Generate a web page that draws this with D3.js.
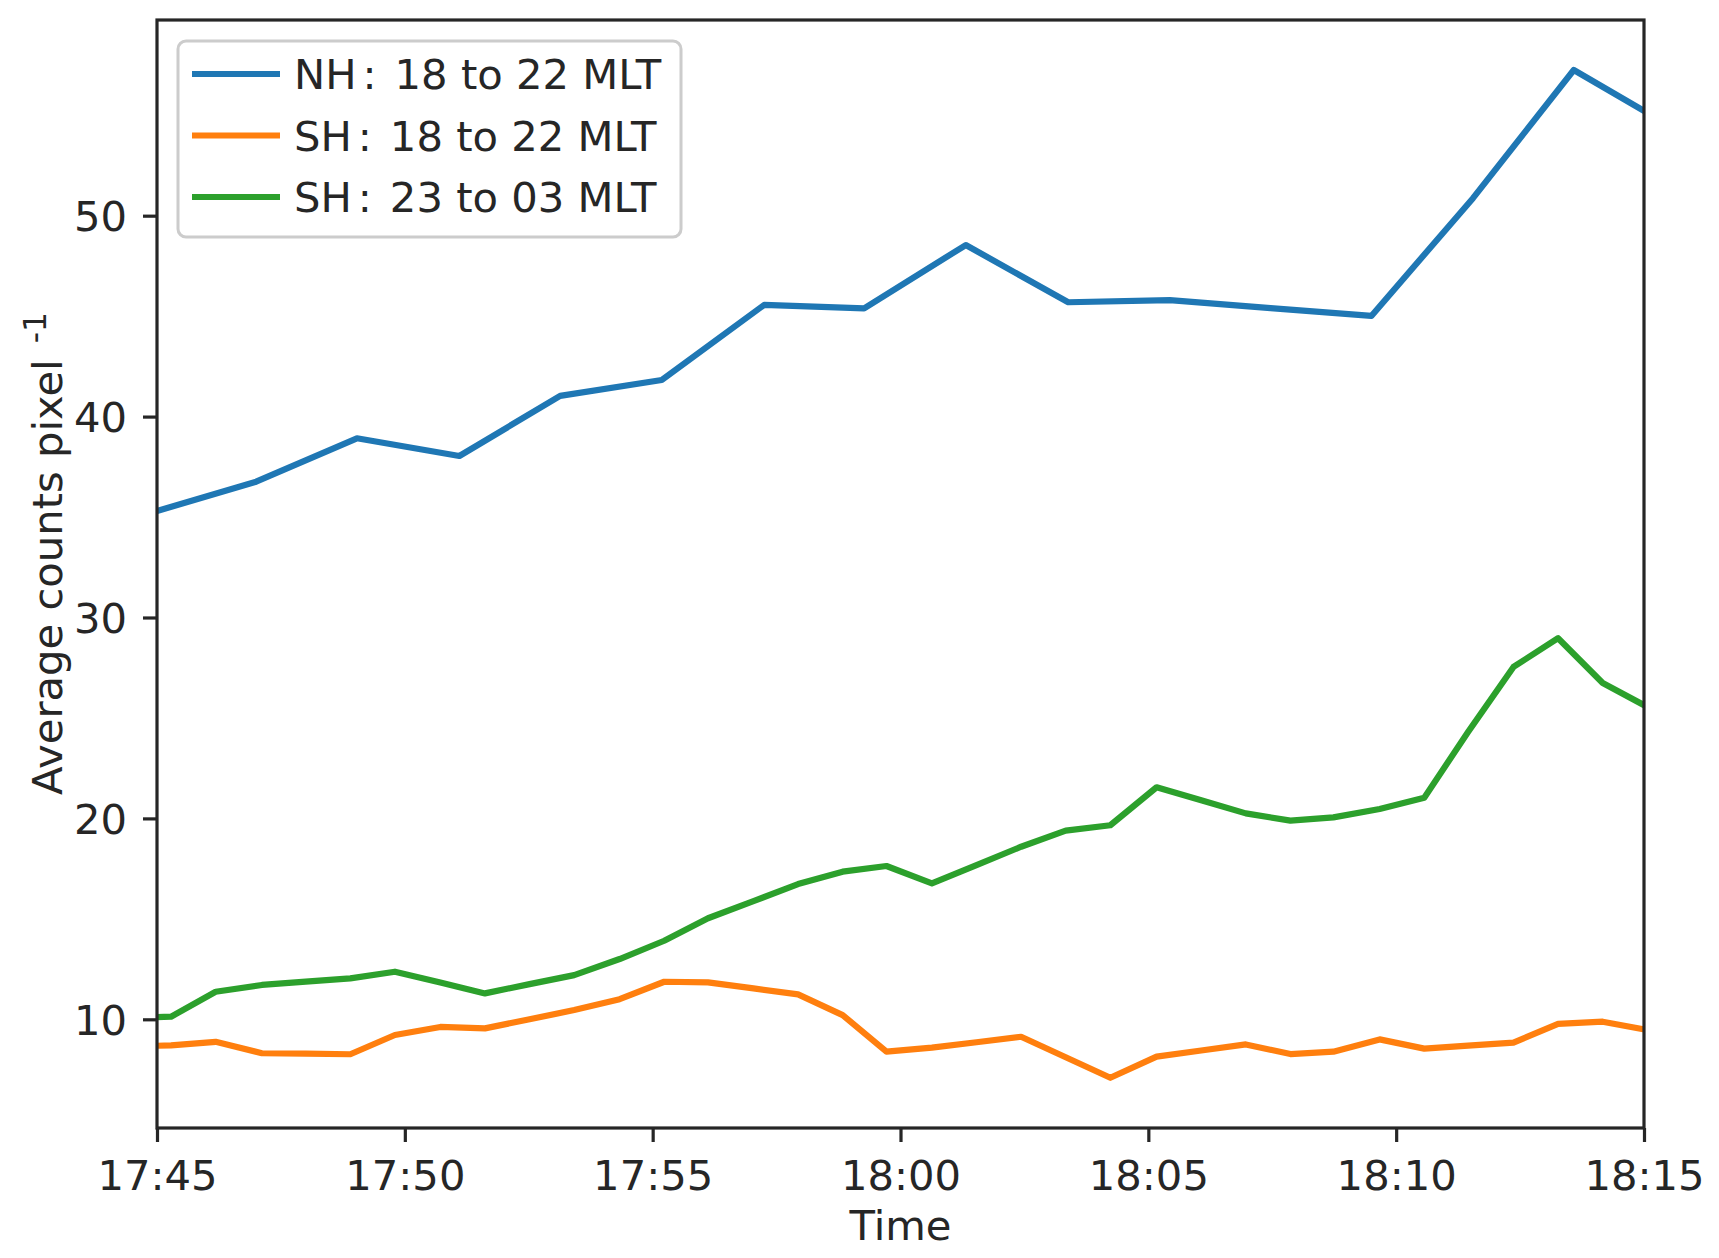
<!DOCTYPE html>
<html>
<head>
<meta charset="utf-8">
<script src="https://cdn.jsdelivr.net/npm/d3@7"></script>
<style>
  html, body { margin: 0; padding: 0; background: #ffffff; }
  svg { display: block; }
  text { font-family: "DejaVu Sans", sans-serif; fill: #262626; }
</style>
</head>
<body>
<script>
// ---------- data ----------
const nhTimes = ["17:45:00","17:47:00","17:49:02","17:51:06","17:53:08","17:55:11","17:57:15","17:59:16",
                 "18:01:19","18:03:23","18:05:26","18:07:28","18:09:30","18:11:33","18:13:35","18:15:38"];
const nh1822 = [35.3, 36.76, 38.92, 38.04, 41.03, 41.82, 45.56, 45.39,
                48.54, 45.69, 45.80, 45.4, 45.01, 50.87, 57.25, 54.31];

const shTimes = ["17:44:23","17:45:17","17:46:11","17:47:07","17:48:00","17:48:54","17:49:48","17:50:43",
                 "17:51:37","17:52:31","17:53:25","17:54:20","17:55:14","17:56:07","17:57:02","17:57:56",
                 "17:58:50","17:59:43","18:00:38","18:01:32","18:02:26","18:03:20","18:04:14","18:05:10",
                 "18:06:04","18:06:58","18:07:52","18:08:44","18:09:40","18:10:34","18:11:27","18:12:22",
                 "18:13:16","18:14:10","18:15:04"];
const sh1822 = [8.65, 8.70, 8.88, 8.31, 8.29, 8.26, 9.22, 9.62,
                9.55, 10.0, 10.46, 11.0, 11.87, 11.84, 11.54, 11.24,
                10.21, 8.39, 8.59, 8.86, 9.13, 8.11, 7.09, 8.14,
                8.45, 8.75, 8.27, 8.39, 9.0, 8.54, 8.69, 8.84,
                9.77, 9.88, 9.47];
const sh2303 = [10.05, 10.13, 11.37, 11.71, 11.88, 12.04, 12.37, 11.83,
                11.29, 11.75, 12.20, 13.0, 13.91, 15.03, 15.88, 16.73,
                17.35, 17.63, 16.77, 17.68, 18.59, 19.39, 19.66, 21.55,
                20.9, 20.25, 19.89, 20.05, 20.47, 21.03, 24.3, 27.54,
                28.97, 26.74, 25.55];

const seriesHemis = ["NH", "SH", "SH"];
const seriesRanges = ["18 to 22 MLT", "18 to 22 MLT", "23 to 03 MLT"];
const seriesColors = ["#1f77b4", "#ff7f0e", "#2ca02c"];
const xTickLabels = ["17:45","17:50","17:55","18:00","18:05","18:10","18:15"];
const yTickValues = [10, 20, 30, 40, 50];
const xDomain = ["17:45:00", "18:15:00"];
const yDomain = [4.59, 59.74];
const xLabel = "Time";
const yLabel = "Average counts pixel";
const yLabelSup = "-1";

// ---------- layout ----------
const W = 1719, H = 1258;
const L = 157, R = 1644, T = 20, B = 1128;
const FS = 41.7;
const ink = "#262626";

const parse = d3.timeParse("%H:%M:%S");
const parseHM = d3.timeParse("%H:%M");

const x = d3.scaleTime().domain(xDomain.map(parse)).range([L, R]);
const y = d3.scaleLinear().domain(yDomain).range([B, T]);

const svg = d3.select("body").append("svg").attr("width", W).attr("height", H);
svg.append("rect").attr("width", W).attr("height", H).attr("fill", "#fff");

svg.append("defs").append("clipPath").attr("id", "clip")
  .append("rect").attr("x", L).attr("y", T).attr("width", R - L).attr("height", B - T);

// lines
const series = [
  { times: nhTimes, vals: nh1822 },
  { times: shTimes, vals: sh1822 },
  { times: shTimes, vals: sh2303 }
];
const line = d3.line().x(d => x(d[0])).y(d => y(d[1]));
const g = svg.append("g").attr("clip-path", "url(#clip)");
series.forEach((s, i) => {
  const pts = s.times.map((t, j) => [parse(t), s.vals[j]]);
  g.append("path").datum(pts)
    .attr("d", line)
    .attr("fill", "none")
    .attr("stroke", seriesColors[i])
    .attr("stroke-width", 6.2)
    .attr("stroke-linejoin", "round")
    .attr("stroke-linecap", "butt");
});

// axes
const xAxis = d3.axisBottom(x)
  .tickValues(xTickLabels.map(parseHM))
  .tickFormat(d3.timeFormat("%H:%M"))
  .tickSizeInner(14).tickSizeOuter(0).tickPadding(16);
const gx = svg.append("g").attr("transform", `translate(0,${B})`).call(xAxis);
gx.select(".domain").remove();
gx.selectAll(".tick line").attr("stroke", ink).attr("stroke-width", 3.2);
gx.selectAll(".tick text").attr("font-size", FS).attr("fill", ink)
  .attr("font-family", "DejaVu Sans").attr("dy", null).attr("y", 62);

const yAxis = d3.axisLeft(y).tickValues(yTickValues).tickFormat(d3.format("d"))
  .tickSizeInner(14).tickSizeOuter(0).tickPadding(16);
const gy = svg.append("g").attr("transform", `translate(${L},0)`).call(yAxis);
gy.select(".domain").remove();
gy.selectAll(".tick line").attr("stroke", ink).attr("stroke-width", 3.2);
gy.selectAll(".tick text").attr("font-size", FS).attr("fill", ink)
  .attr("font-family", "DejaVu Sans").attr("dy", "0.36em");

// spines (frame)
svg.append("rect").attr("x", L).attr("y", T).attr("width", R - L).attr("height", B - T)
  .attr("fill", "none").attr("stroke", ink).attr("stroke-width", 3.2);

// axis labels
svg.append("text").attr("x", (L + R) / 2).attr("y", 1240)
  .attr("text-anchor", "middle").attr("font-size", FS).text(xLabel);

const yl = svg.append("text")
  .attr("transform", "translate(62,795) rotate(-90)")
  .attr("text-anchor", "start").attr("font-size", FS);
yl.append("tspan").text(yLabel);
yl.append("tspan").attr("dx", 16).attr("dy", -16).attr("font-size", FS * 0.75).text(yLabelSup);

// legend
const lg = svg.append("g");
lg.append("rect").attr("x", 178).attr("y", 41).attr("width", 503).attr("height", 196)
  .attr("rx", 8).attr("ry", 8)
  .attr("fill", "#ffffff").attr("fill-opacity", 0.8)
  .attr("stroke", "#cccccc").attr("stroke-width", 3);
seriesHemis.forEach((hemi, i) => {
  const cy = 74 + i * 61.5;
  lg.append("line").attr("x1", 192).attr("x2", 280).attr("y1", cy).attr("y2", cy)
    .attr("stroke", seriesColors[i]).attr("stroke-width", 6.2);
  const t = lg.append("text").attr("x", 294).attr("y", cy + 15).attr("font-size", FS);
  t.append("tspan").text(hemi);
  t.append("tspan").attr("dx", 6).text(":");
  t.append("tspan").attr("dx", 18).text(seriesRanges[i]);
});
</script>
</body>
</html>
